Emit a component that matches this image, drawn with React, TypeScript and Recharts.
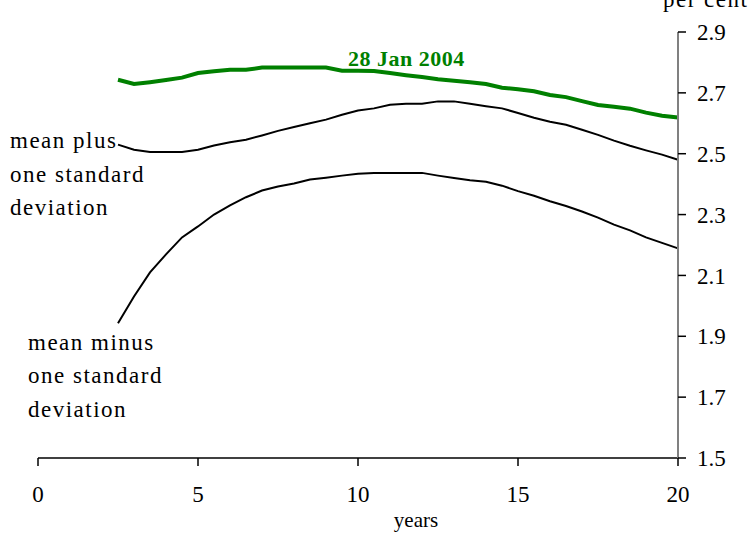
import React from "react";
import { LineChart, Line, XAxis, YAxis } from "recharts";

const years = [2.5, 3, 3.5, 4, 4.5, 5, 5.5, 6, 6.5, 7, 7.5, 8, 8.5, 9, 9.5, 10, 10.5, 11, 11.5, 12, 12.5, 13, 13.5, 14, 14.5, 15, 15.5, 16, 16.5, 17, 17.5, 18, 18.5, 19, 19.5, 20];

const jan2004 = [2.743, 2.729, 2.735, 2.742, 2.75, 2.765, 2.771, 2.776, 2.776, 2.783, 2.783, 2.783, 2.783, 2.783, 2.773, 2.773, 2.772, 2.765, 2.758, 2.752, 2.745, 2.74, 2.735, 2.729, 2.717, 2.712, 2.705, 2.693, 2.686, 2.673, 2.66, 2.654, 2.648, 2.635, 2.625, 2.619];

const meanPlus = [2.53, 2.513, 2.506, 2.506, 2.506, 2.513, 2.527, 2.538, 2.546, 2.56, 2.575, 2.588, 2.6, 2.612, 2.628, 2.642, 2.649, 2.661, 2.664, 2.664, 2.672, 2.672, 2.664, 2.656, 2.649, 2.634, 2.618, 2.605, 2.595, 2.579, 2.562, 2.543, 2.526, 2.511, 2.497, 2.48];

const meanMinus = [1.943, 2.031, 2.11, 2.169, 2.225, 2.261, 2.3, 2.33, 2.357, 2.379, 2.392, 2.402, 2.415, 2.421, 2.428, 2.434, 2.437, 2.437, 2.437, 2.437, 2.428, 2.42, 2.413, 2.408, 2.395, 2.377, 2.362, 2.344, 2.328, 2.31, 2.29, 2.267, 2.248, 2.225, 2.207, 2.189];

const xTicks = [0, 5, 10, 15, 20];
const yTicks = [1.5, 1.7, 1.9, 2.1, 2.3, 2.5, 2.7, 2.9];

const data = years.map((y, i) => ({
  year: y,
  jan: jan2004[i],
  plus: meanPlus[i],
  minus: meanMinus[i],
}));

const FONT = "'Liberation Serif', 'Times New Roman', serif";
const GREEN = "#008000";

export default function App() {
  const textStyle = { fontFamily: FONT, fontSize: 23, letterSpacing: 1.5, fill: "#000" } as const;
  return (
    <div style={{ position: "absolute", left: 0, top: 0, width: 751, height: 533, background: "#fff" }}>
      <LineChart
        width={751}
        height={533}
        data={data}
        margin={{ top: 32, right: 0, bottom: 45, left: 38 }}
      >
        <XAxis
          dataKey="year"
          type="number"
          domain={[0, 20]}
          ticks={xTicks}
          height={30}
          tickSize={8}
          tickMargin={20}
          axisLine={{ stroke: "#000", strokeWidth: 1.5 }}
          tickLine={{ stroke: "#000", strokeWidth: 1.5 }}
          tick={{ fill: "#000", fontSize: 23, fontFamily: FONT }}
          interval={0}
        />
        <YAxis
          orientation="right"
          type="number"
          domain={[1.5, 2.9]}
          ticks={yTicks}
          width={73}
          tickSize={8}
          tickMargin={11}
          axisLine={{ stroke: "#808080", strokeWidth: 2 }}
          tickLine={{ stroke: "#000", strokeWidth: 1.5 }}
          tick={{ fill: "#000", fontSize: 23, fontFamily: FONT }}
          tickFormatter={(v: number) => v.toFixed(1)}
          interval={0}
          allowDataOverflow
        />
        <Line
          dataKey="plus"
          type="linear"
          stroke="#000"
          strokeWidth={2}
          dot={false}
          activeDot={false}
          isAnimationActive={false}
        />
        <Line
          dataKey="minus"
          type="linear"
          stroke="#000"
          strokeWidth={2}
          dot={false}
          activeDot={false}
          isAnimationActive={false}
        />
        <Line
          dataKey="jan"
          type="linear"
          stroke={GREEN}
          strokeWidth={4}
          dot={false}
          activeDot={false}
          isAnimationActive={false}
        />
      </LineChart>
      <svg
        width={751}
        height={533}
        style={{ position: "absolute", left: 0, top: 0, pointerEvents: "none" }}
      >
        <text x={663} y={7} style={textStyle}>per cent</text>
        <text x={348} y={66} style={{ fontFamily: FONT, fontSize: 22, fontWeight: "bold", fill: GREEN, letterSpacing: 0.5 }}>
          28 Jan 2004
        </text>
        <text x={10} y={148} style={textStyle}>mean plus</text>
        <text x={10} y={182} style={textStyle}>one standard</text>
        <text x={10} y={215} style={textStyle}>deviation</text>
        <text x={28} y={350} style={textStyle}>mean minus</text>
        <text x={28} y={383} style={textStyle}>one standard</text>
        <text x={28} y={417} style={textStyle}>deviation</text>
        <text x={416} y={527} textAnchor="middle" style={{ fontFamily: FONT, fontSize: 21, fill: "#000" }}>
          years
        </text>
      </svg>
    </div>
  );
}
